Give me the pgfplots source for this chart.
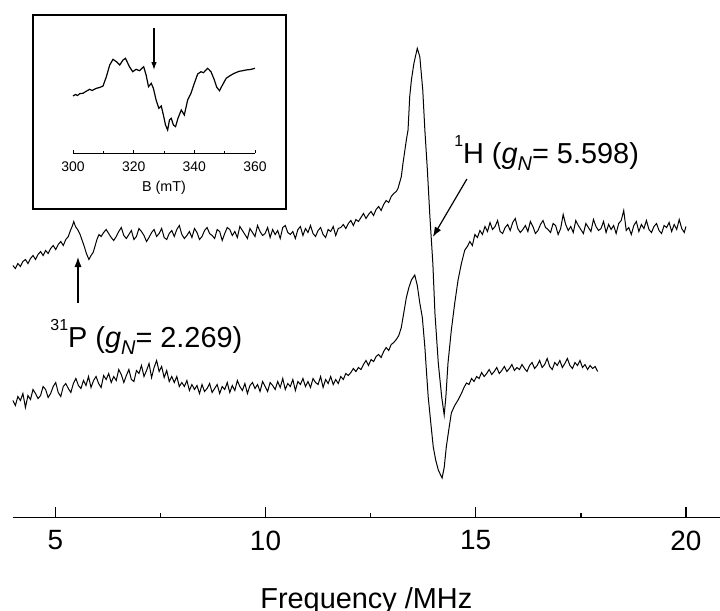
\documentclass[border=0pt]{standalone}
\usepackage{fontspec}
\setmainfont{Liberation Sans}
\usepackage{pgfplots}
\pgfplotsset{compat=1.18}
\usetikzlibrary{arrows.meta}

\begin{document}
\begin{tikzpicture}
\path[use as bounding box] (0,0) rectangle (360bp,-305.5bp);
% ---------------- main axis ----------------
\begin{axis}[
  at={(6.35bp,-258.75bp)}, anchor=south west,
  scale only axis, width=353.65bp, height=258.75bp,
  xmin=3.987, xmax=20.81, ymin=0, ymax=517.5,
  axis x line=bottom, axis y line=none,
  x axis line style={-, line width=0.7bp},
  xtick={5,10,15,20}, minor xtick={7.5,12.5,17.5},
  tick align=inside, major tick length=5.5bp, minor tick length=2.5bp,
  every tick/.style={line width=0.7bp, black},
  /pgf/number format/assume math mode=true,
  xticklabel style={font=\fontsize{14}{16}\selectfont, yshift=-3bp},
  xlabel={Frequency /MHz},
  xlabel style={font=\fontsize{14.5}{17}\selectfont, at={(axis description cs:0.5,0)}, anchor=base, yshift=-45.25bp},
  clip=false,
]
\addplot[black, line width=0.5bp] coordinates {
(3.99,252)(4.05,249)(4.11,254)(4.17,251)(4.23,256)(4.29,258)(4.35,254)(4.41,259)(4.47,262)(4.53,258)
(4.59,263)(4.65,266)(4.71,262)(4.77,267)(4.83,264)(4.89,269)(4.95,272)(5.01,268)(5.07,273)(5.13,276)
(5.19,272)(5.25,278)(5.31,281)(5.36,287)(5.41,292)(5.44,296)(5.48,291)(5.53,288)(5.59,283)(5.64,277)
(5.69,271)(5.74,264)(5.80,258)(5.85,262)(5.90,265)(5.95,272)(5.99,278)(6.04,283)(6.09,281)
(6.15,285)(6.21,288)(6.27,284)(6.33,280)(6.39,277)(6.45,281)(6.51,286)(6.57,290)(6.63,282)(6.69,279)
(6.75,283)(6.81,287)(6.87,278)(6.93,281)(6.99,289)(7.05,286)(7.11,282)(7.17,276)(7.23,280)(7.29,285)
(7.35,288)(7.41,281)(7.47,284)(7.53,289)(7.59,280)(7.65,278)(7.71,284)(7.77,287)(7.83,281)(7.89,288)
(7.95,292)(8.01,283)(8.07,279)(8.13,282)(8.19,286)(8.25,280)(8.31,289)(8.37,285)(8.43,278)(8.49,281)
(8.55,287)(8.61,290)(8.67,284)(8.73,282)(8.79,279)(8.85,288)(8.91,286)(8.97,277)(9.03,284)(9.09,290)
(9.15,288)(9.21,282)(9.27,286)(9.33,280)(9.39,291)(9.45,287)(9.51,283)(9.57,279)(9.63,289)(9.69,285)
(9.75,281)(9.81,292)(9.87,286)(9.93,282)(9.99,284)(10.05,290)(10.11,280)(10.17,288)(10.23,283)(10.29,287)
(10.35,279)(10.41,290)(10.47,292)(10.53,285)(10.59,283)(10.65,286)(10.71,279)(10.77,288)(10.83,291)(10.89,282)
(10.95,289)(11.01,285)(11.07,292)(11.13,284)(11.19,281)(11.25,287)(11.31,290)(11.37,283)(11.43,280)(11.49,288)
(11.55,286)(11.61,291)(11.67,282)(11.73,289)
(11.79,290)(11.85,293)(11.91,289)(11.97,294)(12.03,297)(12.09,292)(12.15,298)(12.21,296)(12.27,300)(12.33,304)
(12.39,299)(12.45,303)(12.51,306)(12.57,302)(12.63,308)(12.69,311)(12.75,307)(12.81,313)(12.87,317)(12.93,315)
(12.99,321)(13.05,324)(13.11,326)(13.15,329)
(13.23,340.8)(13.27,354.2)(13.35,377.5)(13.39,387.5)(13.43,420.8)(13.47,437.5)(13.53,454.2)(13.61,469.2)
(13.67,460.8)(13.74,427.5)(13.79,387.5)(13.85,347.5)(13.91,300.8)(13.98,254.2)(14.03,204.2)(14.11,154.2)
(14.19,120.8)(14.25,102.5)(14.29,120.8)(14.34,154.2)(14.42,187.5)(14.50,214.2)(14.58,237.5)(14.66,254.2)
(14.74,267.5)(14.80,271)(14.86,276)(14.92,272)(14.98,283)(15.04,280)(15.10,287)(15.16,283)(15.22,291)(15.28,286)
(15.34,295)(15.40,288)(15.46,291)(15.52,297)(15.58,286)(15.64,284)(15.70,290)(15.76,293)(15.82,287)(15.88,295)
(15.94,299)(16.00,289)(16.06,285)(16.12,288)(16.18,292)(16.24,286)(16.30,296)(16.36,291)(16.42,284)(16.48,287)
(16.54,293)(16.60,297)(16.66,290)(16.72,288)(16.78,285)(16.84,294)(16.90,292)(16.96,283)(17.02,289)(17.08,303)
(17.14,293)(17.20,287)(17.26,291)(17.32,285)(17.38,297)(17.44,292)(17.50,288)(17.56,284)(17.62,294)(17.68,290)
(17.74,286)(17.80,298)(17.86,291)(17.92,287)(17.98,289)(18.04,296)(18.10,285)(18.16,293)(18.22,288)(18.28,292)
(18.34,284)(18.40,294)(18.46,297)(18.52,307)(18.58,287)(18.64,290)(18.70,283)(18.76,292)(18.82,296)(18.88,286)
(18.94,293)(19.00,289)(19.06,297)(19.12,288)(19.18,285)(19.24,291)(19.30,294)(19.36,287)(19.42,284)(19.48,292)
(19.54,290)(19.60,295)(19.66,286)(19.72,293)(19.78,288)(19.84,298)(19.90,289)(19.96,285)(20.00,291)
};
\addplot[black, line width=0.5bp] coordinates {
(3.99,117)(4.05,112)(4.11,121)(4.17,117)(4.23,124)(4.29,110)(4.35,122)(4.41,118)(4.47,128)(4.53,124)
(4.59,119)(4.65,122)(4.71,131)(4.77,128)(4.83,120)(4.89,124)(4.95,131)(5.01,135)(5.07,125)(5.13,121)
(5.19,131)(5.25,134)(5.31,129)(5.37,125)(5.43,134)(5.49,139)(5.55,132)(5.61,129)(5.67,137)(5.73,132)
(5.79,141)(5.85,130)(5.91,137)(5.97,141)(6.03,134)(6.09,130)(6.15,142)(6.21,138)(6.27,144)(6.33,135)
(6.39,141)(6.45,137)(6.51,148)(6.57,143)(6.63,135)(6.69,142)(6.75,148)(6.81,138)(6.87,136)(6.93,147)
(6.99,144)(7.05,152)(7.11,141)(7.17,147)(7.23,154)(7.29,140)(7.35,150)(7.41,157)(7.47,146)(7.53,151)
(7.59,140)(7.65,147)(7.71,136)(7.77,141)(7.83,135)(7.89,141)(7.95,131)(8.01,135)(8.07,131)(8.13,137)
(8.19,127)(8.25,133)(8.31,128)(8.37,132)(8.43,124)(8.49,133)(8.55,126)(8.61,129)(8.67,134)(8.73,125)
(8.79,129)(8.85,133)(8.91,124)(8.97,131)(9.03,128)(9.09,135)(9.15,125)(9.21,132)(9.27,127)(9.33,137)
(9.39,131)(9.45,127)(9.51,134)(9.57,124)(9.63,132)(9.69,135)(9.75,129)(9.81,133)(9.87,126)(9.93,136)
(9.99,131)(10.05,126)(10.11,135)(10.17,132)(10.23,128)(10.29,136)(10.35,130)(10.41,139)(10.47,128)(10.53,134)
(10.59,131)(10.65,138)(10.71,127)(10.77,136)(10.83,133)(10.89,139)(10.95,131)(11.01,136)(11.07,130)(11.13,139)
(11.19,135)(11.25,133)(11.31,141)(11.37,130)(11.43,138)(11.49,134)(11.55,141)(11.61,133)(11.67,138)(11.73,134)
(11.79,141)(11.85,138)(11.91,144)(11.97,142)(12.03,145)(12.09,149)(12.15,146)(12.21,150)(12.27,148)(12.33,153)
(12.39,157)(12.45,152)(12.51,158)(12.57,156)(12.63,161)(12.69,163)(12.75,160)(12.81,166)(12.87,170)(12.93,167)
(12.99,173)(13.05,175)(13.11,178)(13.17,182)(13.23,190)(13.29,205)(13.35,220)(13.41,230)(13.47,237.5)(13.55,242.5)
(13.61,232)(13.67,214.5)(13.73,200)(13.79,170.5)(13.83,145)(13.87,120.5)(13.93,95)(13.99,70.5)(14.05,57)(14.11,47.5)
(14.16,43)(14.20,39.5)(14.25,50)(14.30,70.5)(14.36,88)(14.42,104.5)(14.50,112)(14.58,117.5)(14.66,124)(14.72,130)
(14.78,134.5)(14.84,133)(14.90,139)(14.96,136)
(15.02,141)(15.08,139)(15.14,145)(15.20,141)(15.26,144)(15.32,148)(15.38,143)(15.44,146)(15.50,150)(15.56,144)
(15.62,147)(15.68,151)(15.74,146)(15.80,149)(15.86,153)(15.92,147)(15.98,150)(16.04,148)(16.10,153)(16.16,149)
(16.22,146)(16.28,152)(16.34,155)(16.40,149)(16.46,152)(16.52,157)(16.58,150)(16.64,153)(16.70,159)(16.76,151)
(16.82,148)(16.88,155)(16.94,152)(17.00,157)(17.06,150)(17.12,154)(17.18,159)(17.24,152)(17.30,149)(17.36,155)
(17.42,152)(17.48,157)(17.54,150)(17.60,153)(17.66,148)(17.72,152)(17.78,149)(17.84,151)(17.90,146)
};
% annotations
\draw[-{Latex[length=5bp,width=3.6bp]}, line width=0.6bp] (axis cs:5.54,214.5) -- (axis cs:5.54,260.5);
\node[anchor=base west, inner sep=0pt, font=\fontsize{14.5}{17}\selectfont] at (axis cs:4.874,170.5)
  {\raisebox{1.05ex}{\fontsize{8}{8}\selectfont 31}P (\textit{g}\raisebox{-0.5ex}{\fontsize{10}{10}\selectfont\textit{N}}= 2.269)};
\draw[-{Latex[length=5bp,width=3.6bp]}, line width=0.6bp] (axis cs:14.79,338.5) -- (axis cs:13.98,280.5);
\node[anchor=base west, inner sep=0pt, font=\fontsize{14.5}{17}\selectfont] at (axis cs:14.48,354.5)
  {\raisebox{1.05ex}{\fontsize{8}{8}\selectfont 1}H (\textit{g}\raisebox{-0.5ex}{\fontsize{10}{10}\selectfont\textit{N}}= 5.598)};
\end{axis}
% ---------------- inset ----------------
\draw[line width=0.7bp] (16.5bp,-7.5bp) rectangle (143bp,-104.5bp);
\begin{axis}[
  at={(36.5bp,-76.5bp)}, anchor=south west,
  scale only axis, width=91bp, height=61.5bp,
  xmin=300, xmax=360, ymin=0, ymax=123,
  axis x line=bottom, axis y line=none,
  x axis line style={-, line width=0.5bp},
  xtick={300,320,340,360}, minor xtick={310,330,350},
  tick align=inside, major tick length=1.4bp, minor tick length=0.8bp,
  every tick/.style={line width=0.5bp, black},
  /pgf/number format/assume math mode=true,
  xticklabel style={font=\fontsize{7}{8}\selectfont, yshift=-1bp},
  xlabel={B (mT)},
  xlabel style={font=\fontsize{7.2}{8}\selectfont, at={(axis description cs:0.5,0)}, anchor=base, yshift=-19bp},
  clip=false,
]
\addplot[black, line width=0.6bp] coordinates {
(300,57)(300.8,58.5)(301.5,57.5)(302.3,59.5)(303.3,59.7)(304.2,61.5)(305.5,63.7)(306.3,62.5)(307.7,64.7)(308.8,65.5)
(309.9,67)(311,76.3)(312.1,88)(313.2,93.7)(314.3,91.3)(315.4,88)(316.5,93)(317.3,94.7)(318.6,86.3)(319.7,81.3)
(320.8,83.7)(321.9,82.3)(323.3,86.3)(324.1,78)(324.9,66.3)(325.8,69.7)(326.5,64.7)(327.4,53)(328.3,44.7)(329.1,47)
(329.8,38)(330.5,28)(331.2,23)(331.8,33)(332.4,34.7)(333.1,28)(333.8,26.3)(334.6,34.7)(335.7,43)(336.7,38)
(337.8,53)(338.9,59.7)(340.0,69.7)(341.1,79)(342.2,81.3)(343.0,80.3)(344.4,84.7)(345.5,81.3)(346.6,73)(347.4,65.7)
(348.3,62.3)(349.1,67)(350.5,74.7)(351.6,77)(352.7,79)(353.8,80.5)(354.8,81.7)(356,82.3)(357.0,83)(358.5,83.5)(360,84.7)
};
\draw[-{Latex[length=4bp,width=2.8bp]}, line width=0.6bp] (axis cs:326.7,125) -- (axis cs:326.7,83);
\end{axis}
\end{tikzpicture}
\end{document}
